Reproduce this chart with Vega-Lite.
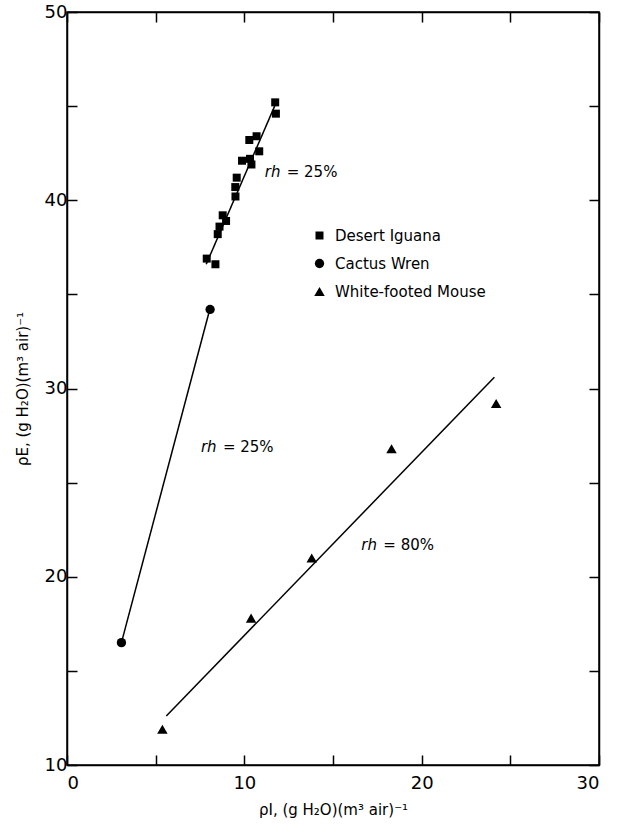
{
  "$schema": "https://vega.github.io/schema/vega-lite/v6.json",
  "width": 532,
  "height": 753,
  "autosize": {"type": "none"},
  "padding": {"left": 67, "top": 12, "right": 19, "bottom": 65},
  "background": "white",
  "config": {
    "font": "DejaVu Sans",
    "view": {"stroke": "black", "strokeWidth": 1.5},
    "axis": {
      "domainColor": "black",
      "domainWidth": 1.5,
      "tickColor": "black",
      "tickWidth": 1.5,
      "tickSize": -10,
      "grid": false,
      "labelColor": "black",
      "labelFontSize": 18,
      "labelFont": "DejaVu Sans",
      "titleColor": "black",
      "titleFontSize": 15,
      "titleFontWeight": "normal"
    }
  },
  "datasets": {
    "points": [
      {"species": "Desert Iguana", "x": 7.88, "y": 36.9},
      {"species": "Desert Iguana", "x": 8.37, "y": 36.6},
      {"species": "Desert Iguana", "x": 8.5, "y": 38.2},
      {"species": "Desert Iguana", "x": 8.6, "y": 38.6},
      {"species": "Desert Iguana", "x": 8.78, "y": 39.2},
      {"species": "Desert Iguana", "x": 8.97, "y": 38.9},
      {"species": "Desert Iguana", "x": 9.49, "y": 40.7},
      {"species": "Desert Iguana", "x": 9.5, "y": 40.2},
      {"species": "Desert Iguana", "x": 9.57, "y": 41.2},
      {"species": "Desert Iguana", "x": 9.87, "y": 42.1},
      {"species": "Desert Iguana", "x": 10.28, "y": 43.2},
      {"species": "Desert Iguana", "x": 10.32, "y": 42.2},
      {"species": "Desert Iguana", "x": 10.4, "y": 41.9},
      {"species": "Desert Iguana", "x": 10.69, "y": 43.4},
      {"species": "Desert Iguana", "x": 10.84, "y": 42.6},
      {"species": "Desert Iguana", "x": 11.74, "y": 45.2},
      {"species": "Desert Iguana", "x": 11.78, "y": 44.6},
      {"species": "Cactus Wren", "x": 3.07, "y": 16.5},
      {"species": "Cactus Wren", "x": 8.07, "y": 34.2},
      {"species": "White-footed Mouse", "x": 5.38, "y": 11.9},
      {"species": "White-footed Mouse", "x": 10.38, "y": 17.8},
      {"species": "White-footed Mouse", "x": 13.8, "y": 21.0},
      {"species": "White-footed Mouse", "x": 18.3, "y": 26.8},
      {"species": "White-footed Mouse", "x": 24.2, "y": 29.2}
    ],
    "lines": [
      {"group": "iguana", "x": 7.85, "y": 36.6},
      {"group": "iguana", "x": 11.8, "y": 45.2},
      {"group": "wren", "x": 3.07, "y": 16.5},
      {"group": "wren", "x": 8.05, "y": 34.2},
      {"group": "mouse", "x": 5.6, "y": 12.6},
      {"group": "mouse", "x": 24.1, "y": 30.6}
    ],
    "notes": [
      {"x": 11.15, "y": 41.5, "rest": "=  25%"},
      {"x": 7.55, "y": 26.9, "rest": "=  25%"},
      {"x": 16.6, "y": 21.7, "rest": "=  80%"}
    ]
  },
  "layer": [
    {
      "data": {"name": "lines"},
      "mark": {"type": "line", "color": "black", "strokeWidth": 1.5},
      "encoding": {
        "x": {"field": "x", "type": "quantitative", "scale": {"domain": [0, 30], "nice": false, "zero": false},
              "axis": {"orient": "top", "values": [0, 5, 10, 15, 20, 25, 30], "labels": false, "title": null}},
        "y": {"field": "y", "type": "quantitative", "scale": {"domain": [10, 50], "nice": false, "zero": false},
              "axis": {"orient": "right", "values": [10, 15, 20, 25, 30, 35, 40, 45, 50], "labels": false, "title": null}},
        "detail": {"field": "group"}
      }
    },
    {
      "data": {"name": "points"},
      "mark": {"type": "point", "filled": true, "color": "black", "opacity": 1},
      "encoding": {
        "x": {"field": "x", "type": "quantitative",
              "axis": {"orient": "bottom", "values": [0, 5, 10, 15, 20, 25, 30], "labelExpr": "datum.value % 10 === 0 ? datum.label : ''",
                       "labelPadding": 19, "title": "ρI, (g H₂O)(m³ air)⁻¹", "titlePadding": 10}},
        "y": {"field": "y", "type": "quantitative",
              "axis": {"orient": "left", "values": [10, 15, 20, 25, 30, 35, 40, 45, 50], "labelExpr": "datum.value % 10 === 0 ? datum.label : ''",
                       "labelPadding": 10, "title": "ρE, (g H₂O)(m³ air)⁻¹", "titlePadding": 14}},
        "shape": {"field": "species", "type": "nominal",
                  "scale": {"domain": ["Desert Iguana", "Cactus Wren", "White-footed Mouse"], "range": ["square", "circle", "triangle-up"]},
                  "legend": {"title": null, "orient": "none", "legendX": 245, "legendY": 216,
                             "symbolFillColor": "black", "symbolStrokeColor": "black", "labelFontSize": 15,
                             "labelColor": "black", "rowPadding": 11, "labelOffset": 8}},
        "size": {"field": "species", "type": "nominal",
                 "scale": {"domain": ["Desert Iguana", "Cactus Wren", "White-footed Mouse"], "range": [64, 110, 110]},
                 "legend": {"title": null, "orient": "none", "legendX": 245, "legendY": 216,
                             "symbolFillColor": "black", "symbolStrokeColor": "black", "labelFontSize": 15,
                             "labelColor": "black", "rowPadding": 11, "labelOffset": 8}}
      }
    },
    {
      "data": {"name": "notes"},
      "mark": {"type": "text", "text": "rh", "fontStyle": "italic", "fontSize": 15, "align": "left", "baseline": "middle", "color": "black"},
      "encoding": {
        "x": {"field": "x", "type": "quantitative", "axis": null},
        "y": {"field": "y", "type": "quantitative", "axis": null}
      }
    },
    {
      "data": {"name": "notes"},
      "mark": {"type": "text", "fontSize": 15, "align": "left", "baseline": "middle", "dx": 22, "color": "black"},
      "encoding": {
        "x": {"field": "x", "type": "quantitative", "axis": null},
        "y": {"field": "y", "type": "quantitative", "axis": null},
        "text": {"field": "rest"}
      }
    }
  ],
  "resolve": {"axis": {"x": "independent", "y": "independent"}}
}
